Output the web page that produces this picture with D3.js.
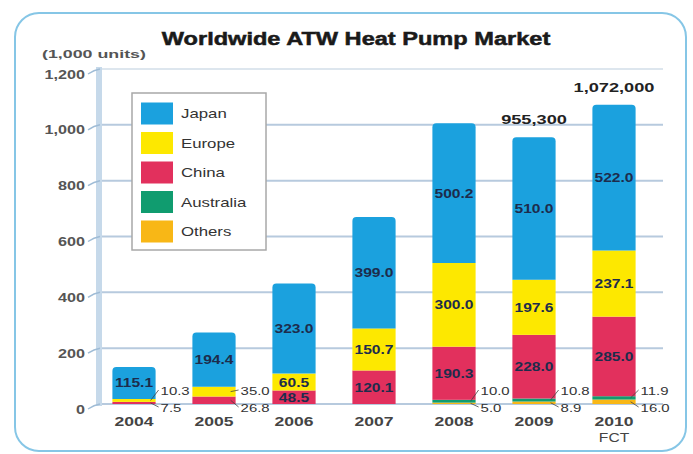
<!DOCTYPE html>
<html>
<head>
<meta charset="utf-8">
<script src="https://cdn.jsdelivr.net/npm/d3@7"></script>
<style>
  html, body { margin: 0; padding: 0; background: #fff; }
  svg { display: block; }
  text { font-family: "Liberation Sans", Arial, sans-serif; }
</style>
</head>
<body>
<svg id="chart" width="693" height="454"></svg>
<script>
// ---- data ----
const years      = ["2004", "2005", "2006", "2007", "2008", "2009", "2010"];
const yearSub    = ["", "", "", "", "", "", "FCT"];
const japan      = [115.1, 194.4, 323.0, 399.0, 500.2, 510.0, 522.0];
const europe     = [10.3, 35.0, 60.5, 150.7, 300.0, 197.6, 237.1];
const china      = [7.5, 26.8, 48.5, 120.1, 190.3, 228.0, 285.0];
const australia  = [0, 0, 0, 0, 10.0, 10.8, 11.9];
const others     = [0, 0, 0, 0, 5.0, 8.9, 16.0];
const totalLabels = ["", "", "", "", "", "955,300", "1,072,000"];
const yTicks     = [0, 200, 400, 600, 800, 1000, 1200];
const seriesNames = ["Japan", "Europe", "China", "Australia", "Others"];
const title = "Worldwide ATW Heat Pump Market";
const unitLabel = "(1,000 units)";

// ---- styling ----
const colors = {Japan: "#1ba1de", Europe: "#fde800", China: "#e2305d", Australia: "#109c6f", Others: "#f8b716"};
const SX = 1.35; // horizontal stretch of glyphs seen in reference

const svg = d3.select("#chart");

// border
svg.append("rect").attr("x", 15).attr("y", 13).attr("width", 671).attr("height", 438)
  .attr("rx", 24).attr("fill", "none").attr("stroke", "#86c6e6").attr("stroke-width", 2);

const x = d3.scaleBand().domain(years).range([94, 654]).paddingInner(0.46).paddingOuter(0.23);
const y = d3.scaleLinear().domain([0, 1200]).range([404, 69]);

function txt(g, xx, yy, s, size, weight, anchor, color, sx) {
  return g.append("text")
    .attr("transform", `translate(${xx},${yy}) scale(${sx || SX},1)`)
    .attr("text-anchor", anchor || "start")
    .attr("font-size", size)
    .attr("font-weight", weight || "normal")
    .attr("fill", color || "#333")
    .text(s);
}

// gridlines
const grid = svg.append("g");
grid.selectAll("line").data(yTicks).join("line")
  .attr("x1", 100).attr("x2", 663)
  .attr("y1", d => y(d)).attr("y2", d => y(d))
  .attr("stroke", d => d === 1200 ? "#dde6ee" : "#b7cade")
  .attr("stroke-width", 2);

// y axis band
svg.append("line").attr("x1", 99).attr("x2", 99).attr("y1", y(1200) - 2).attr("y2", y(0) + 2)
  .attr("stroke", "#c6d9ea").attr("stroke-width", 6);
// ticks
svg.append("g").selectAll("path").data(yTicks).join("path")
  .attr("d", d => `M88,${y(d) + 5} Q94,${y(d) + 1} 100,${y(d)}`)
  .attr("fill", "none").attr("stroke", "#9fbcd6").attr("stroke-width", 1.5);

// y tick labels
yTicks.forEach(t => {
  txt(svg, 85, y(t) + 9.5, d3.format(",")(t), 12, "bold", "end", "#555");
});

// title & unit
txt(svg, 356, 45, title, 18, "bold", "middle", "#1a1a1a", 1.31)
  .attr("stroke", "#1a1a1a").attr("stroke-width", 0.5);
txt(svg, 42, 58, unitLabel, 11.5, "bold", "start", "#555", 1.55);

// legend
const lg = svg.append("g");
lg.append("rect").attr("x", 132).attr("y", 93).attr("width", 134).attr("height", 157)
  .attr("fill", "#fff").attr("stroke", "#a8a8a8").attr("stroke-width", 1.5);
seriesNames.forEach((n, i) => {
  const cy = 113.5 + i * 29.5;
  lg.append("rect").attr("x", 141).attr("y", cy - 11).attr("width", 32).attr("height", 22)
    .attr("fill", colors[n]);
  txt(lg, 181, cy + 4.5, n, 12, "normal", "start", "#333", 1.4);
});

// stacked data
const table = years.map((yr, i) => ({
  year: yr, Japan: japan[i], Europe: europe[i], China: china[i],
  Australia: australia[i], Others: others[i]
}));
const stackOrder = ["Others", "Australia", "China", "Europe", "Japan"];
const stacked = d3.stack().keys(stackOrder)(table);

const bars = svg.append("g");
stacked.forEach(layer => {
  const key = layer.key;
  layer.forEach((d, i) => {
    const v = d[1] - d[0];
    if (v <= 0) return;
    const bx = x(d.data.year), bw = x.bandwidth();
    const y0 = y(d[0]), y1 = y(d[1]);
    if (key === "Japan") {
      const r = 4;
      bars.append("path")
        .attr("d", `M${bx},${y0} L${bx},${y1 + r} Q${bx},${y1} ${bx + r},${y1} L${bx + bw - r},${y1} Q${bx + bw},${y1} ${bx + bw},${y1 + r} L${bx + bw},${y0} Z`)
        .attr("fill", colors[key]);
    } else {
      bars.append("rect").attr("x", bx).attr("y", y1).attr("width", bw).attr("height", y0 - y1)
        .attr("fill", colors[key]);
    }
  });
});

// value labels
const labels = svg.append("g");
stacked.forEach(layer => {
  const key = layer.key;
  layer.forEach((d, i) => {
    const v = d[1] - d[0];
    if (v <= 0) return;
    const bx = x(d.data.year), bw = x.bandwidth();
    const mid = (y(d[0]) + y(d[1])) / 2;
    if (v >= 40) {
      txt(labels, bx + bw / 2, mid + 4.5, v.toFixed(1), 12, "bold", "middle", "#1d2c4c", 1.3);
    }
  });
});

// side labels for small segments (two per year: upper/lower)
years.forEach((yr, i) => {
  const small = stackOrder.slice().reverse()
    .map(k => ({k, v: table[i][k]}))
    .filter(o => o.v > 0 && o.v < 40);
  const bx = x(yr), bw = x.bandwidth();
  const lx = bx + bw + 5;
  const slots = [y(0) - 14, y(0) + 3];
  small.forEach((o, j) => {
    const layer = stacked.find(l => l.key === o.k)[i];
    const segMid = (y(layer[0]) + y(layer[1])) / 2;
    const ly = slots[j] !== undefined ? slots[j] : slots[1];
    labels.append("path")
      .attr("d", `M${bx + bw - 5},${segMid} L${lx - 2},${ly}`)
      .attr("stroke", "#444").attr("stroke-width", 0.8).attr("fill", "none");
    txt(labels, lx, ly + 4.5, o.v.toFixed(1), 11.5, "normal", "start", "#333", 1.3);
  });
});

// totals
years.forEach((yr, i) => {
  if (!totalLabels[i]) return;
  const tot = japan[i] + europe[i] + china[i] + australia[i] + others[i];
  txt(svg, x(yr) + x.bandwidth() / 2, y(tot) - 13, totalLabels[i], 13, "bold", "middle", "#222", 1.4);
});

// x labels
years.forEach((yr, i) => {
  const cx = x(yr) + x.bandwidth() / 2;
  txt(svg, cx, 426, yr, 13, "bold", "middle", "#444", 1.35);
  if (yearSub[i]) txt(svg, cx, 442, yearSub[i], 13, "normal", "middle", "#444", 1.2);
});
</script>
</body>
</html>
